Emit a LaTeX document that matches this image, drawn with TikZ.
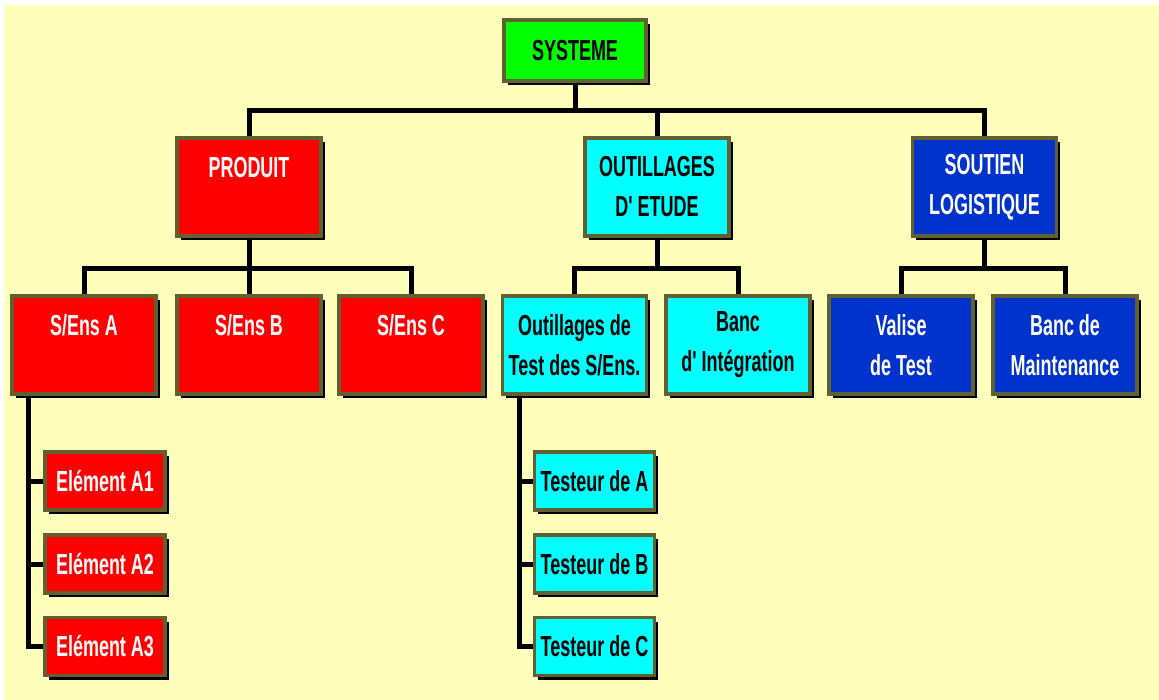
\documentclass[tikz,border=0pt]{standalone}
\usepackage{fontspec}
\newfontfamily\boxfont{Liberation Sans}[FakeStretch=0.62]
\usetikzlibrary{shadows}
\definecolor{bgyellow}{RGB}{255,255,188}
\definecolor{boxedge}{RGB}{96,96,48}
\definecolor{sysgreen}{RGB}{0,255,0}
\definecolor{prodred}{RGB}{255,0,0}
\definecolor{toolcyan}{RGB}{0,255,255}
\definecolor{supblue}{RGB}{0,51,204}
\begin{document}
\begin{tikzpicture}[x=1pt,y=-1pt,
  box/.style={rectangle, draw=boxedge, line width=3.5pt, align=center,
    inner sep=0pt, font={\boxfont\bfseries\fontsize{29}{40}\selectfont},
    drop shadow={shadow xshift=3.5pt, shadow yshift=-4pt, fill=black, opacity=1}},
  tall/.style={box, minimum width=144pt, minimum height=98pt},
  leaf/.style={box, minimum width=120pt, minimum height=58pt},
  redbox/.style={fill=prodred, text=white},
  cyanbox/.style={fill=toolcyan, text=black},
  bluebox/.style={fill=supblue, text=white},
  link/.style={draw=black, line width=5pt}]

% page and woven yellow ground
\useasboundingbox (0,0) rectangle (1159,700);
\fill[white] (0,0) rectangle (1159,700);
\fill[bgyellow] (4,5) rectangle (1159,700);

% top level
\node[box, fill=sysgreen, text=black, minimum width=142pt, minimum height=61pt]
  (sys) at (575,50.5) {SYSTEME};

% first level
\node[tall, redbox]  (prod)  at (249,187)   {PRODUIT\\\mbox{}};
\node[tall, cyanbox] (outil) at (657,187)   {OUTILLAGES\\D' ETUDE};
\node[tall, bluebox] (sout)  at (984.5,187) {SOUTIEN\\LOGISTIQUE};

% second level
\node[tall, redbox]  (sensA)  at (84,345)    {S/Ens A\\\mbox{}};
\node[tall, redbox]  (sensB)  at (249,345)   {S/Ens B\\\mbox{}};
\node[tall, redbox]  (sensC)  at (411,345)   {S/Ens C\\\mbox{}};
\node[tall, cyanbox] (otest)  at (574.5,345) {Outillages de\\Test des S/Ens.};
\node[tall, cyanbox] (banc)   at (738,345)   {Banc\\d' Intégration};
\node[tall, bluebox] (valise) at (901,345)   {Valise\\de Test};
\node[tall, bluebox] (bancm)  at (1065,345)  {Banc de\\Maintenance};

% third level
\node[leaf, redbox]  (e1) at (105,481)   {Elément A1};
\node[leaf, redbox]  (e2) at (105,564)   {Elément A2};
\node[leaf, redbox]  (e3) at (105,646.5) {Elément A3};
\node[leaf, cyanbox] (t1) at (594.5,481)   {Testeur de A};
\node[leaf, cyanbox] (t2) at (594.5,564)   {Testeur de B};
\node[leaf, cyanbox] (t3) at (594.5,646.5) {Testeur de C};

% bus junctions
\coordinate (b1) at (575,111);
\coordinate (b2) at (249,269);
\coordinate (b3) at (657,269);
\coordinate (b4) at (984.5,269);
\coordinate (ex) at ([xshift=18pt]sensA.south west);
\coordinate (tx) at ([xshift=18.5pt]otest.south west);

% connectors
\draw[link] (sys.south) -- (b1);
\draw[link] (prod.north) |- (b1) -| (sout.north);
\draw[link] (outil.north) -- (outil.north |- b1);

\draw[link] (prod.south) -- (sensB.north);
\draw[link] (sensA.north) |- (b2) -| (sensC.north);
\draw[link] (outil.south) -- (b3);
\draw[link] (otest.north) |- (b3) -| (banc.north);
\draw[link] (sout.south) -- (b4);
\draw[link] (valise.north) |- (b4) -| (bancm.north);

\draw[link] (ex) |- (e3.west);
\draw[link] (e1.west) -- (e1.west -| ex);
\draw[link] (e2.west) -- (e2.west -| ex);
\draw[link] (tx) |- (t3.west);
\draw[link] (t1.west) -- (t1.west -| tx);
\draw[link] (t2.west) -- (t2.west -| tx);
\end{tikzpicture}
\end{document}
